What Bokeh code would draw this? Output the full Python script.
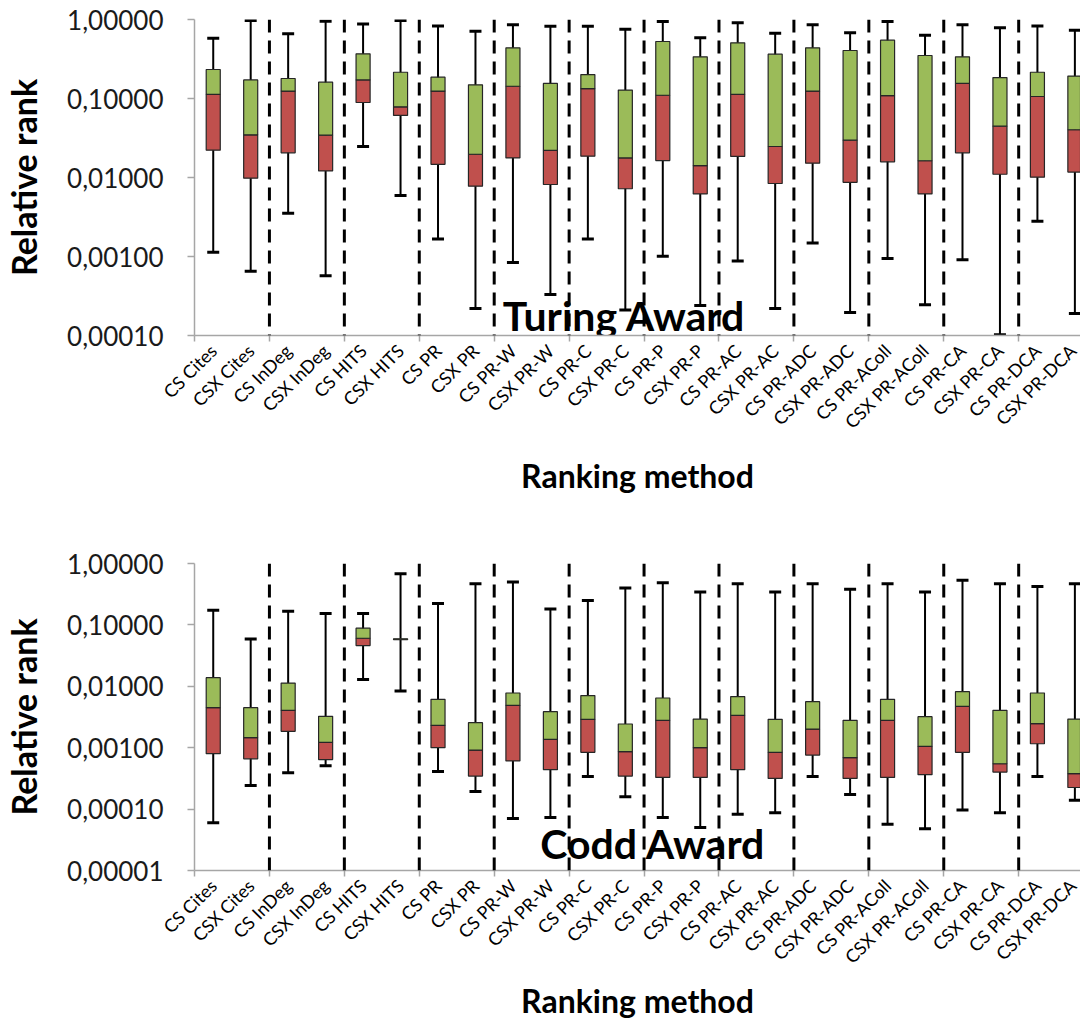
import math
from bokeh.plotting import figure
from bokeh.models import FixedTicker, Range1d, Span, CustomJSTickFormatter, ColumnDataSource
from bokeh.layouts import column
from bokeh.embed import file_html
from bokeh.resources import INLINE
from bokeh.core.properties import value

methods = ["CS Cites", "CSX Cites", "CS InDeg", "CSX InDeg", "CS HITS", "CSX HITS",
           "CS PR", "CSX PR", "CS PR-W", "CSX PR-W", "CS PR-C", "CSX PR-C",
           "CS PR-P", "CSX PR-P", "CS PR-AC", "CSX PR-AC", "CS PR-ADC", "CSX PR-ADC",
           "CS PR-AColl", "CSX PR-AColl", "CS PR-CA", "CSX PR-CA", "CS PR-DCA", "CSX PR-DCA"]

y_ticks_top = [1e-4, 1e-3, 1e-2, 1e-1, 1.0]
y_ticks_bottom = [1e-5, 1e-4, 1e-3, 1e-2, 1e-1, 1.0]

tur_min = [0.00113, 0.00065, 0.00353, 0.00057, 0.0247, 0.0059, 0.00166, 0.00022, 0.00084, 0.00033,
           0.00166, 0.00021, 0.00101, 0.00024, 0.00088, 0.00022, 0.00148, 0.000195, 0.00094, 0.000245,
           0.00091, 0.000102, 0.0028, 0.00019]
tur_q1 = [0.0222, 0.0098, 0.0205, 0.0121, 0.089, 0.061, 0.0147, 0.00776, 0.0177, 0.00815,
          0.0186, 0.0072, 0.0164, 0.0062, 0.0185, 0.0084, 0.0152, 0.0087, 0.0158, 0.0062,
          0.0205, 0.011, 0.0101, 0.0117]
tur_med = [0.113, 0.0347, 0.124, 0.0343, 0.172, 0.0785, 0.124, 0.0197, 0.143, 0.022,
           0.133, 0.0177, 0.110, 0.0141, 0.113, 0.0247, 0.124, 0.0297, 0.109, 0.0163,
           0.155, 0.0446, 0.106, 0.0402]
tur_q3 = [0.233, 0.172, 0.179, 0.161, 0.368, 0.215, 0.186, 0.149, 0.438, 0.155,
          0.201, 0.128, 0.527, 0.337, 0.507, 0.364, 0.438, 0.405, 0.547, 0.35,
          0.337, 0.184, 0.215, 0.192]
tur_max = [0.58, 0.97, 0.66, 0.95, 0.88, 0.97, 0.83, 0.71, 0.855, 0.82,
           0.82, 0.755, 0.94, 0.586, 0.91, 0.67, 0.855, 0.68, 0.94, 0.634,
           0.855, 0.785, 0.83, 0.73]

codd_min = [0.00006, 0.000243, 0.00039, 0.00051, 0.01285, 0.0084, 0.00041, 0.000194, 0.0000705, 0.0000731,
            0.00034, 0.000159, 0.0000731, 0.0000502, 0.0000828, 0.0000871, 0.00034, 0.000173, 0.0000569, 0.0000478,
            0.0000964, 0.0000871, 0.00034, 0.00014]
codd_q1 = [0.0008, 0.00066, 0.00185, 0.00064, 0.046, 0.0575, 0.001, 0.000345, 0.00061, 0.000438,
           0.00084, 0.000345, 0.000328, 0.000328, 0.000438, 0.000316, 0.000759, 0.000316, 0.000328, 0.000363,
           0.00084, 0.000401, 0.00116, 0.000225]
codd_med = [0.00449, 0.00146, 0.00406, 0.00122, 0.0606, 0.0584, 0.00231, 0.000916, 0.0049, 0.00137,
            0.0029, 0.00086, 0.00279, 0.001, 0.00337, 0.00084, 0.00201, 0.000687, 0.00279, 0.00105,
            0.00472, 0.000548, 0.00246, 0.000377]
codd_q3 = [0.0138, 0.00449, 0.0113, 0.00324, 0.0883, 0.0593, 0.00614, 0.00256, 0.00778, 0.00386,
           0.00705, 0.00243, 0.00645, 0.00293, 0.00679, 0.0029, 0.00562, 0.00279, 0.00614, 0.0032,
           0.00818, 0.00406, 0.00778, 0.00293]
codd_max = [0.173, 0.059, 0.167, 0.153, 0.153, 0.68, 0.223, 0.466, 0.502, 0.182,
            0.249, 0.40, 0.484, 0.345, 0.466, 0.345, 0.466, 0.382, 0.466, 0.345,
            0.535, 0.466, 0.422, 0.466]

GREEN = "#9BBB59"
RED = "#C0504D"
AXIS = "#A6A6A6"
FONT = "Lato"


def make_panel(title, title_x, title_y, mins, q1, med, q3, maxs, yticks,
               height, border_top, border_bottom, label_standoff):
    n = len(methods)
    centers = [i + 0.5 for i in range(n)]
    p = figure(width=1080, height=height,
               x_range=Range1d(0, 23.65), y_range=Range1d(yticks[0], yticks[-1]),
               y_axis_type="log", output_backend="svg", toolbar_location=None,
               min_border_left=193, min_border_right=0,
               min_border_top=border_top, min_border_bottom=border_bottom)
    p.outline_line_color = None
    p.grid.visible = False
    p.background_fill_color = "white"
    p.border_fill_color = "white"

    # title text inside plot (drawn first, under data)
    tsrc = ColumnDataSource(dict(x=[title_x], y=[title_y], t=[title]))
    p.text(x="x", y="y", text="t", source=tsrc, text_align="center",
           text_baseline="middle", text_font=value(FONT), text_font_style="bold",
           text_font_size="41px", text_color="black")

    src = ColumnDataSource(dict(x=centers, lo=mins, q1=q1, med=med, q3=q3, hi=maxs))
    p.segment(x0="x", y0="lo", x1="x", y1="hi", source=src, line_color="black", line_width=2)
    p.scatter(x="x", y="hi", marker="dash", size=12, source=src, line_color="black", line_width=3)
    p.scatter(x="x", y="lo", marker="dash", size=12, source=src, line_color="black", line_width=3)
    p.vbar(x="x", width=0.375, bottom="q1", top="med", source=src,
           fill_color=RED, line_color="#262626", line_width=1.2)
    p.vbar(x="x", width=0.375, bottom="med", top="q3", source=src,
           fill_color=GREEN, line_color="#262626", line_width=1.2)

    for b in range(2, n, 2):
        p.add_layout(Span(location=b, dimension="height", line_color="black",
                          line_width=3, line_dash="13 8"))

    # x axis
    xa = p.xaxis[0]
    xa.ticker = FixedTicker(ticks=centers, minor_ticks=list(range(0, n, 2)))
    xa.major_label_overrides = {c: m for c, m in zip(centers, methods)}
    xa.major_label_orientation = math.pi / 4
    xa.major_label_text_font = FONT
    xa.major_label_text_font_size = "18px"
    xa.major_label_text_color = "black"
    xa.major_label_standoff = 6
    xa.major_tick_in = 0
    xa.major_tick_out = 0
    xa.minor_tick_in = 0
    xa.minor_tick_out = 6
    xa.minor_tick_line_color = AXIS
    xa.minor_tick_line_width = 1.5
    xa.axis_line_color = AXIS
    xa.axis_line_width = 1.5
    xa.axis_label = "Ranking method"
    xa.axis_label_text_font = FONT
    xa.axis_label_text_font_style = "bold"
    xa.axis_label_text_font_size = "32px"
    xa.axis_label_text_color = "black"
    xa.axis_label_standoff = label_standoff

    # y axis
    ya = p.yaxis[0]
    ya.ticker = FixedTicker(ticks=yticks, minor_ticks=[])
    ya.formatter = CustomJSTickFormatter(code="return tick.toFixed(5).replace('.', ',');")
    ya.major_label_text_font = FONT
    ya.major_label_text_font_size = "26px"
    ya.major_label_text_color = "#1a1a1a"
    ya.major_label_standoff = 24
    ya.major_tick_in = 0
    ya.major_tick_out = 7
    ya.major_tick_line_color = AXIS
    ya.major_tick_line_width = 1.5
    ya.minor_tick_line_color = None
    ya.axis_line_color = AXIS
    ya.axis_line_width = 1.5
    ya.axis_label = "Relative rank"
    ya.axis_label_text_font = FONT
    ya.axis_label_text_font_style = "bold"
    ya.axis_label_text_font_size = "34px"
    ya.axis_label_text_color = "black"
    ya.axis_label_standoff = 20
    return p


p1 = make_panel("Turing Award", 11.47, 1.79e-4, tur_min, tur_q1, tur_med, tur_q3, tur_max,
                y_ticks_top, 505, 19, 170, 13)
p2 = make_panel("Codd Award", 12.24, 2.75e-5, codd_min, codd_q1, codd_med, codd_q3, codd_max,
                y_ticks_bottom, 519, 58, 154, 3)

layout = column(p1, p2, spacing=0)
open("out.html", "w").write(file_html(layout, INLINE))
